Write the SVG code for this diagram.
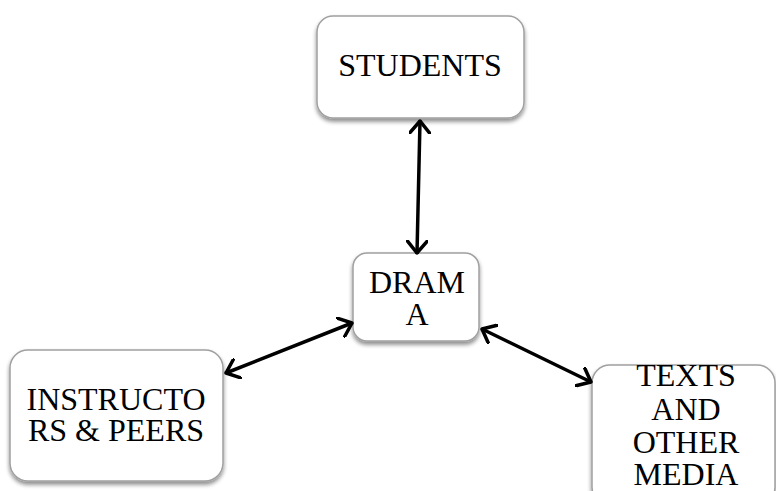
<svg xmlns="http://www.w3.org/2000/svg" width="776" height="491" viewBox="0 0 776 491">
<defs>
<style>
.box{fill:#fff;stroke:#a0a0a0;stroke-width:1.5;filter:url(#sh)}
.lbl{font-family:"Liberation Serif","Times New Roman",serif;font-size:32px;fill:#000;text-anchor:middle}
.con{stroke:#000;stroke-width:3.5;fill:none;stroke-linecap:round}
</style>
<filter id="sh" x="-10%" y="-10%" width="120%" height="130%">
<feGaussianBlur in="SourceAlpha" stdDeviation="2"/>
<feOffset dx="0" dy="3" result="b"/>
<feComponentTransfer><feFuncA type="linear" slope="0.45"/></feComponentTransfer>
<feMerge><feMergeNode/><feMergeNode in="SourceGraphic"/></feMerge>
</filter>
<marker id="ah" viewBox="0 0 14 22" refX="13" refY="11" markerWidth="14" markerHeight="22" markerUnits="userSpaceOnUse" orient="auto-start-reverse">
<path d="M1,1 L13,11 L1,21" fill="none" stroke="#000" stroke-width="3.5" stroke-linecap="round" stroke-linejoin="round"/>
</marker>
</defs>
<rect width="776" height="491" fill="#fff"/>
<g id="students">
<rect class="box" x="317" y="16" width="207" height="102" rx="16"/>
<text class="lbl" x="420" y="76">STUDENTS</text>
</g>
<g id="drama">
<rect class="box" x="353" y="253" width="126" height="88" rx="14"/>
<text class="lbl" x="417" y="293">DRAM</text>
<text class="lbl" x="417" y="325">A</text>
</g>
<g id="instructors">
<rect class="box" x="10" y="350" width="213" height="131" rx="18"/>
<text class="lbl" x="116" y="410">INSTRUCTO</text>
<text class="lbl" x="116" y="441">RS &amp; PEERS</text>
</g>
<g id="texts">
<rect class="box" x="592" y="365" width="183" height="140" rx="18"/>
<text class="lbl" x="686" y="386">TEXTS</text>
<text class="lbl" x="686" y="420">AND</text>
<text class="lbl" x="686" y="453">OTHER</text>
<text class="lbl" x="686" y="485">MEDIA</text>
</g>
<g id="connectors">
<line class="con" x1="420" y1="121" x2="417" y2="253" marker-start="url(#ah)" marker-end="url(#ah)"/>
<line class="con" x1="352" y1="323" x2="226" y2="373" marker-start="url(#ah)" marker-end="url(#ah)"/>
<line class="con" x1="482" y1="329" x2="591" y2="382" marker-start="url(#ah)" marker-end="url(#ah)"/>
</g>
</svg>
